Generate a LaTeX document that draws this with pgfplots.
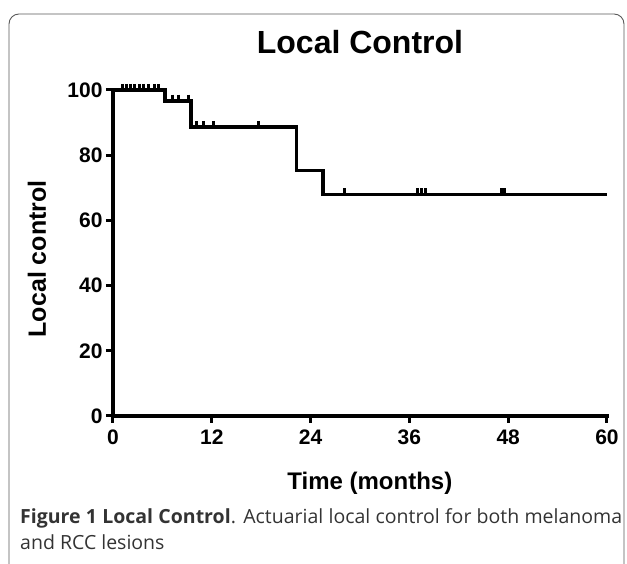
\documentclass[border=0pt]{standalone}
\usepackage{fontspec}
\setmainfont{Liberation Sans}
\newfontfamily\capfont{Open Sans}
\usepackage{pgfplots}
\pgfplotsset{compat=1.18}
\begin{document}
\begin{tikzpicture}
\path[use as bounding box] (0,0) rectangle (627pt,564pt);
\draw[line width=0.9pt, black!65, rounded corners=10pt] (9pt,0pt) -- (9pt,550pt) -- (624pt,550pt) -- (624pt,0pt);
\begin{axis}[
  at={(113pt,148pt)}, anchor=south west,
  scale only axis, width=494pt, height=326pt,
  xmin=0, xmax=60, ymin=0, ymax=100,
  axis lines*=left,
  axis line style={line width=3.2pt, line cap=rect},
  xtick={0,12,24,36,48,60}, xticklabels={0,12,24,36,48,60},
  ytick={0,20,40,60,80,100}, yticklabels={0,20,40,60,80,100},
  tick align=outside, major tick length=7pt,
  tick style={line width=3pt, black},
  ticklabel style={font=\bfseries\fontsize{21}{21}\selectfont},
  xticklabel style={yshift=-3pt},
  title={Local Control},
  title style={at={(axis description cs:0.5,1.13)}, anchor=center, font=\bfseries\fontsize{32}{32}\selectfont},
  xlabel={Time (months)},
  xlabel style={at={(axis description cs:0.52,-0.2055)}, anchor=center, font=\bfseries\fontsize{24}{24}\selectfont},
  ylabel={Local control},
  ylabel style={at={(axis description cs:-0.154,0.482)}, anchor=center, font=\bfseries\fontsize{25}{25}\selectfont},
  clip=false,
]
\addplot[const plot, line width=3.5pt, black] coordinates {(0,100) (6.3,96.7) (9.5,88.6) (22.3,75.3) (25.5,68.0) (60,68.0)};
\addplot[only marks, mark=|, mark size=3.2pt, mark options={line width=3pt, yshift=3pt}] coordinates {
(1.2,100) (1.6,100) (2.1,100) (2.6,100) (3.2,100) (3.7,100) (4.3,100) (5.0,100) (5.5,100)
(7.2,96.7) (7.9,96.7) (9.2,96.7)
(10.2,88.6) (11.0,88.6) (12.2,88.6) (17.7,88.6)
(28.1,68.0) (37.0,68.0) (37.5,68.0) (38.0,68.0) (47.2,68.0) (47.6,68.0)};
\end{axis}
\node[anchor=base west, text width=602pt, align=justify, inner sep=0pt, font=\capfont\fontsize{19.5}{26}\selectfont, text=black!80] at (20pt,40pt)
{{\bfseries Figure 1 Local Control}. Actuarial local control for both melanoma\linebreak and RCC lesions};
\end{tikzpicture}
\end{document}
